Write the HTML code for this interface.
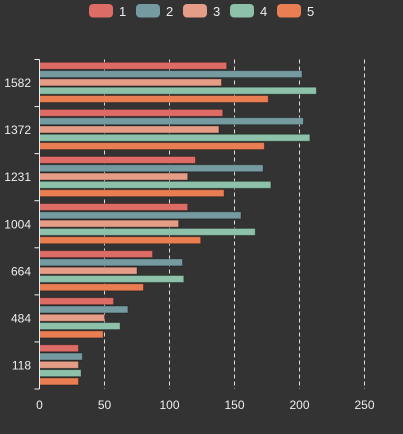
<!DOCTYPE html>
<html><head><style>
body{margin:0;background:#333;}
svg{display:block;font-family:"Liberation Sans",sans-serif;}
</style></head><body>
<svg id="c" width="403" height="434"></svg>
<script>
const categories=["1582","1372","1231","1004","664","484","118"];
const series1=[144,141,120,114,87,57,30];
const series2=[202,203,172,155,110,68,33];
const series3=[140,138,114,107,75,50,30];
const series4=[213,208,178,166,111,62,32];
const series5=[176,173,142,124,80,49,30];
const seriesNames=["1","2","3","4","5"];
const xTicks=[0,50,100,150,200,250];
const colors=["#dd6b66","#759aa0","#e69d87","#8dc1a9","#ea7e53"];
const allSeries=[series1,series2,series3,series4,series5];
const NS="http://www.w3.org/2000/svg";
const svgEl=document.getElementById("c");
const x0=39.5,pxPer=1.3,yTop=59.5,yBottom=389;
const band=(yBottom-yTop)/categories.length;
const X=v=>x0+v*pxPer;
function mk(t,a,p){const e=document.createElementNS(NS,t);for(const k in a)e.setAttribute(k,a[k]);(p||svgEl).appendChild(e);return e;}
seriesNames.forEach((n,i)=>{
  const g=mk("g",{});
  
  
  mk("rect",{x:89+i*47,y:4,width:24,height:13.5,rx:4,fill:colors[i]},g);
  const t=mk("text",{x:119+i*47,y:16,fill:"#eee","font-size":13},g);t.textContent=n;
});
xTicks.forEach(v=>{
  if(v>0){const l=mk("line",{x1:X(v),x2:X(v),y1:yTop,y2:yBottom,stroke:"#ddd","stroke-dasharray":"4,3","stroke-width":1});
  
  }
  const t=mk("text",{x:X(v),y:409,fill:"#eee","font-size":12,"text-anchor":"middle"});
  
  
  t.textContent=v;
});
categories.forEach((c,ci)=>{
  const y0=yTop+ci*band;
  allSeries.forEach((s,si)=>{
    const r=mk("rect",{x:X(0),y:y0+2.8+si*8.3,width:s[ci]*pxPer,height:7,fill:colors[si],stroke:"rgba(0,0,0,0.3)","stroke-width":1});
    
    
  });
  const t=mk("text",{x:31,y:y0+band/2+4,fill:"#eee","font-size":12,"text-anchor":"end"});
  
  
  t.textContent=c;
});
const ax=mk("line",{x1:x0,x2:x0,y1:yTop,y2:yBottom,stroke:"#eee","stroke-width":1});


for(let i=0;i<=categories.length;i++){
  const y=yTop+i*band;
  mk("line",{x1:x0-5,x2:x0,y1:y,y2:y,stroke:"#eee","stroke-width":1});
}
</script>
</body></html>
